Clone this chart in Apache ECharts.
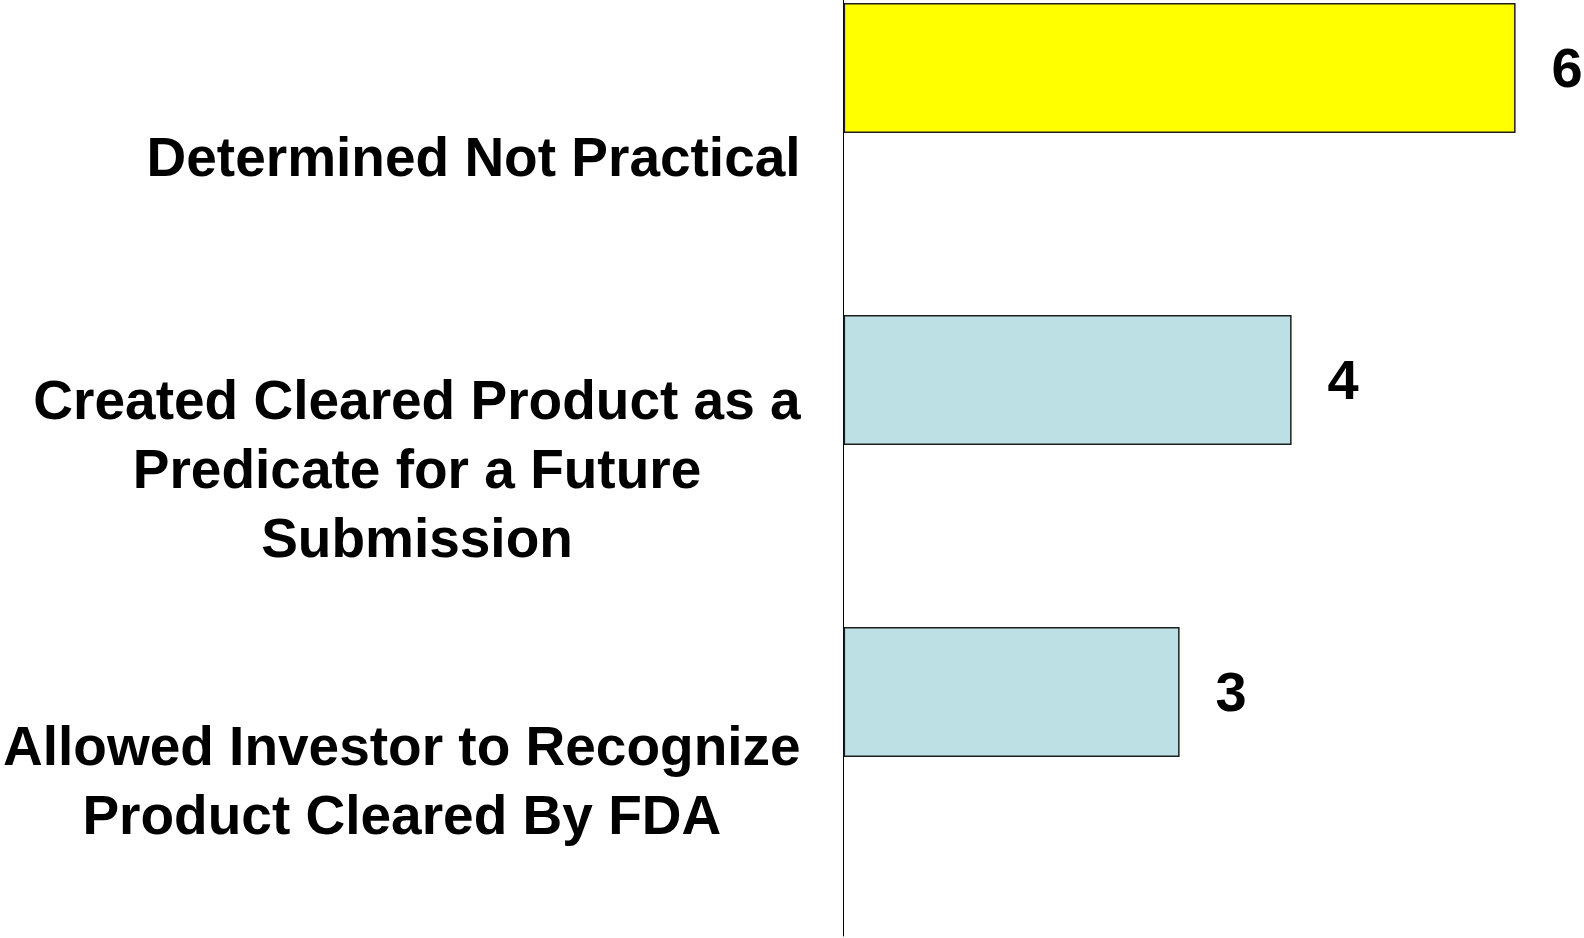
<!DOCTYPE html>
<html>
<head>
<meta charset="utf-8">
<title>Outcomes</title>
<script src="https://cdn.jsdelivr.net/npm/echarts@6/dist/echarts.min.js"></script>
<style>
  html, body { margin: 0; padding: 0; background: #fff; }
  #chart { width: 1584px; height: 938px; }
</style>
</head>
<body>
<div id="chart"></div>
<script>
const categories = [
  "Determined Not Practical",
  "Created Cleared Product as a\nPredicate for a Future\nSubmission",
  "Allowed Investor to Recognize\nProduct Cleared By FDA",
];
const counts = [6, 4, 3];
// empty series, only used to push the real bars to the top of each band
const spacer = ["-", "-", "-"];

const font = "'Liberation Sans', Arial, sans-serif";

const chart = echarts.init(document.getElementById("chart"));
chart.setOption({
  animation: false,
  grid: { left: 836, top: 0, width: 735.6, height: 936 },
  xAxis: {
    type: "value",
    min: 0,
    max: 6.5,
    show: false,
  },
  yAxis: {
    type: "category",
    inverse: true,
    data: categories,
    axisTick: { show: false },
    axisLine: { show: true, lineStyle: { color: "#000", width: 1 } },
    axisLabel: {
      interval: 0,
      margin: 43,
      align: "right",
      padding: [9, 0, 0, 0],
      color: "#000",
      fontFamily: font,
      fontSize: 55,
      fontWeight: "bold",
      lineHeight: 69,
      formatter: (v) => "{c|" + v.split("\n").join("}\n{c|") + "}",
      rich: {
        c: {
          align: "center",
          color: "#000",
          fontFamily: font,
          fontSize: 55,
          fontWeight: "bold",
          lineHeight: 69,
        },
      },
    },
  },
  series: [
    {
      type: "bar",
      data: counts,
      barWidth: 130,
      barGap: "35.4%",
      itemStyle: {
        color: (p) => (p.dataIndex === 0 ? "#ffff00" : "#bce0e3"),
        borderColor: "#1e1e1e",
        borderWidth: 1.5,
      },
      label: {
        show: true,
        position: "right",
        distance: 36,
        offset: [0, 4],
        color: "#000",
        fontFamily: font,
        fontSize: 56,
        fontWeight: "bold",
      },
    },
    {
      type: "bar",
      data: spacer,
      barWidth: 130,
      silent: true,
    },
  ],
});
</script>
</body>
</html>
